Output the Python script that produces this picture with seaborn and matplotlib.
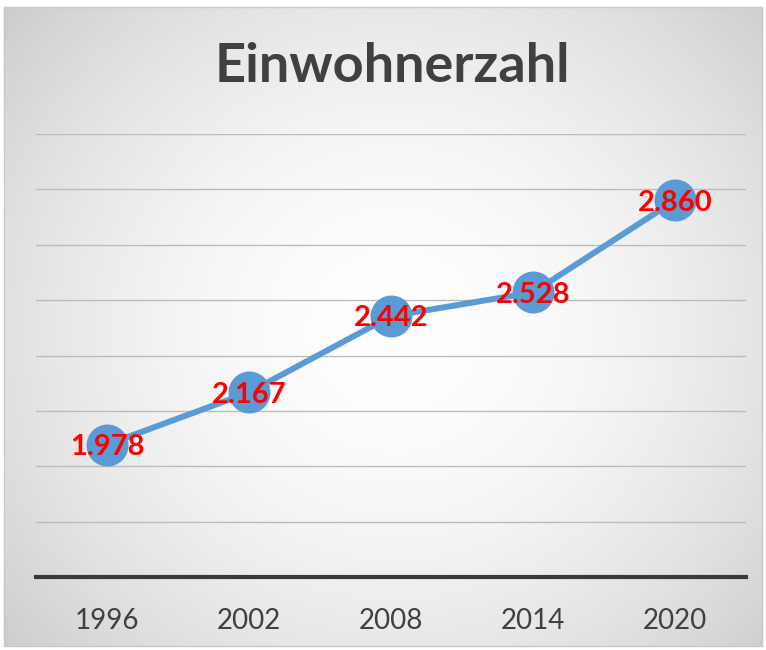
import numpy as np
import pandas as pd
import matplotlib
matplotlib.use("Agg")
import matplotlib.pyplot as plt
import seaborn as sns

jahre = ["1996", "2002", "2008", "2014", "2020"]
einwohner = [1978, 2167, 2442, 2528, 2860]
beschriftung = ["1.978", "2.167", "2.442", "2.528", "2.860"]

df = pd.DataFrame({"Jahr": jahre, "Einwohner": einwohner})

sns.set_theme(style="white")
plt.rcParams["font.family"] = ["Lato", "DejaVu Sans"]

W, H = 766, 650
fig = plt.figure(figsize=(W / 100, H / 100), dpi=100)
fig.patch.set_facecolor("white")

# Hintergrund mit radialem Verlauf
bx0, by0, bx1, by1 = 4, 7, 762, 646
bg = fig.add_axes([bx0 / W, 1 - by1 / H, (bx1 - bx0) / W, (by1 - by0) / H])
gx, gy = np.meshgrid(np.linspace(0, 1, 400), np.linspace(0, 1, 340))
cx, cy = (395 - bx0) / (bx1 - bx0), (330 - by0) / (by1 - by0)
r = np.sqrt(((gx - cx) / 0.55) ** 2 + ((gy - cy) / 0.62) ** 2)
r = np.clip(r, 0, 1.25)
val = 1.0 - 0.2 * (r ** 1.8) / (1.25 ** 1.8)
img = np.dstack([val, val, val])
bg.imshow(img, aspect="auto", extent=[0, 1, 1, 0], interpolation="bilinear")
bg.set_axis_off()
fig.patches.append(plt.Rectangle((bx0 / W, 1 - by1 / H), (bx1 - bx0) / W, (by1 - by0) / H,
                                 transform=fig.transFigure, fill=False,
                                 edgecolor="#c8c8c8", linewidth=1, zorder=5))

# Diagramm
ax = fig.add_axes([36 / W, 1 - 577 / H, (746 - 36) / W, (577 - 134) / H])
ax.patch.set_alpha(0)
sns.pointplot(data=df, x="Jahr", y="Einwohner", color="#5B9BD5", ax=ax,
              markersize=27, linewidth=4.3, zorder=3)

ax.set_ylim(1500, 3100)
ax.set_xlim(-0.5, 4.5)
ax.set_yticks(np.arange(1500, 3101, 200))
ax.set_yticklabels([])
ax.tick_params(axis="y", length=0)
ax.tick_params(axis="x", length=0, pad=22, labelsize=20, labelcolor="#404040")
ax.grid(axis="y", color="#bcbcbc", linewidth=1)
ax.set_axisbelow(True)
for side in ["left", "right", "top"]:
    ax.spines[side].set_visible(False)
ax.spines["bottom"].set_color("#3a3a3a")
ax.spines["bottom"].set_linewidth(3)
ax.set_xlabel("")
ax.set_ylabel("")

for i, (v, t) in enumerate(zip(einwohner, beschriftung)):
    ax.text(i, v - 8, t, color="red", fontsize=21, fontweight="bold",
            ha="center", va="center", zorder=5)

fig.text(392 / W, 1 - 66 / H, "Einwohnerzahl", ha="center", va="center",
         fontsize=39, fontweight="bold", color="#404040")

fig.savefig("out.png", dpi=100)
